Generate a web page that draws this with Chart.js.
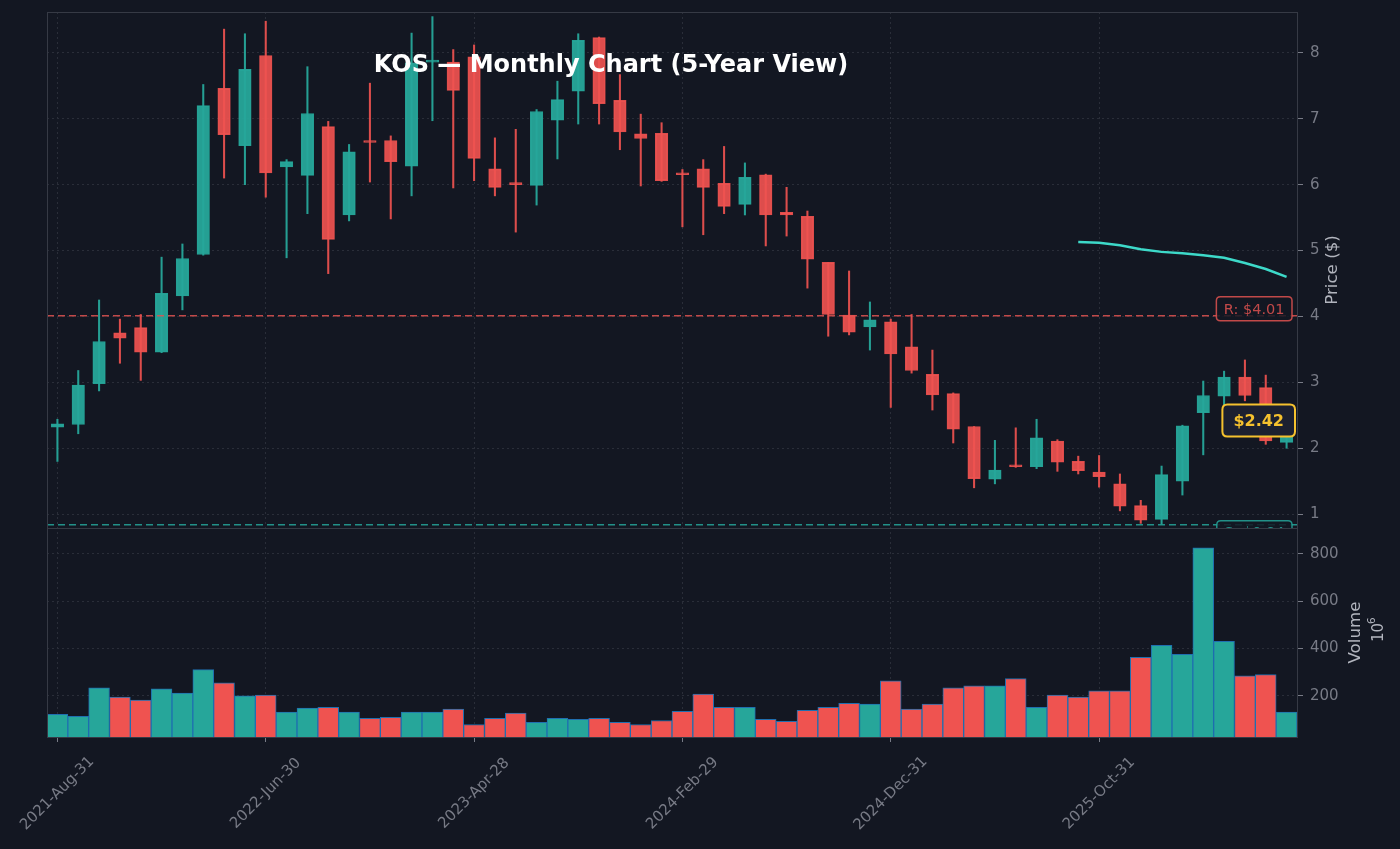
<!DOCTYPE html>
<html>
<head>
<meta charset="utf-8">
<title>KOS Monthly Chart</title>
<script src="https://cdn.jsdelivr.net/npm/chart.js@4.4.1/dist/chart.umd.min.js"></script>
<style>
  html, body { margin: 0; padding: 0; background: #131722; }
  #wrap { width: 1400px; height: 849px; }
</style>
</head>
<body>
<div id="wrap"><canvas id="kosChart" width="1400" height="849"></canvas></div>
<script>
// Month-end trading dates, one candle per month
const dates = [
  "2021-Aug-31", "2021-Sep-30", "2021-Oct-29", "2021-Nov-30", "2021-Dec-31",
  "2022-Jan-31", "2022-Feb-28", "2022-Mar-31", "2022-Apr-29", "2022-May-31",
  "2022-Jun-30", "2022-Jul-29", "2022-Aug-31", "2022-Sep-30", "2022-Oct-31",
  "2022-Nov-30", "2022-Dec-30", "2023-Jan-31", "2023-Feb-28", "2023-Mar-31",
  "2023-Apr-28", "2023-May-31", "2023-Jun-30", "2023-Jul-31", "2023-Aug-31",
  "2023-Sep-29", "2023-Oct-31", "2023-Nov-30", "2023-Dec-29", "2024-Jan-31",
  "2024-Feb-29", "2024-Mar-28", "2024-Apr-30", "2024-May-31", "2024-Jun-28",
  "2024-Jul-31", "2024-Aug-30", "2024-Sep-30", "2024-Oct-31", "2024-Nov-29",
  "2024-Dec-31", "2025-Jan-31", "2025-Feb-28", "2025-Mar-31", "2025-Apr-30",
  "2025-May-30", "2025-Jun-30", "2025-Jul-31", "2025-Aug-29", "2025-Sep-30",
  "2025-Oct-31", "2025-Nov-28", "2025-Dec-31", "2026-Jan-30", "2026-Feb-27",
  "2026-Mar-31", "2026-Apr-30", "2026-May-29", "2026-Jun-30", "2026-Jul-31"
];

// OHLC in dollars
const opens = [
  2.32, 2.36, 2.98, 3.75, 3.83, 3.46, 4.31, 4.94, 7.46, 6.59,
  7.96, 6.27, 6.14, 6.88, 5.54, 6.65, 6.67, 6.28, 7.86, 7.86,
  7.94, 6.24, 6.01, 5.99, 6.98, 7.42, 8.23, 7.28, 6.77, 6.78,
  6.16, 6.24, 6.02, 5.70, 6.15, 5.58, 5.52, 4.82, 4.02, 3.84,
  3.92, 3.54, 3.12, 2.83, 2.33, 1.53, 1.74, 1.72, 2.11, 1.80,
  1.64, 1.46, 1.13, 0.92, 1.50, 2.54, 2.79, 3.08, 2.92, 2.09
];
const highs = [
  2.44, 3.18, 4.25, 3.96, 4.03, 4.90, 5.10, 7.52, 8.36, 8.29,
  8.48, 6.38, 7.79, 6.96, 6.61, 7.54, 6.74, 8.30, 8.55, 8.05,
  8.12, 6.71, 6.84, 7.14, 7.57, 8.29, 8.24, 7.67, 7.07, 6.94,
  6.23, 6.38, 6.58, 6.33, 6.16, 5.96, 5.60, 4.82, 4.69, 4.22,
  3.96, 4.03, 3.49, 2.84, 2.33, 2.12, 2.31, 2.44, 2.13, 1.88,
  1.89, 1.61, 1.21, 1.73, 2.35, 3.02, 3.17, 3.34, 3.11, 2.50
];
const lows = [
  1.80, 2.22, 2.87, 3.29, 3.03, 3.45, 4.10, 4.93, 6.10, 6.00,
  5.81, 4.89, 5.56, 4.65, 5.45, 6.04, 5.48, 5.83, 6.97, 5.95,
  6.06, 5.83, 5.28, 5.69, 6.39, 6.92, 6.92, 6.53, 5.98, 6.05,
  5.36, 5.24, 5.56, 5.54, 5.07, 5.22, 4.43, 3.70, 3.72, 3.49,
  2.62, 3.14, 2.58, 2.08, 1.40, 1.46, 1.71, 1.69, 1.65, 1.61,
  1.41, 1.05, 0.86, 0.85, 1.29, 1.90, 2.66, 2.72, 2.06, 2.00
];
const closes = [
  2.37, 2.96, 3.62, 3.67, 3.46, 4.35, 4.88, 7.20, 6.76, 7.75,
  6.18, 6.35, 7.08, 5.17, 6.50, 6.64, 6.35, 7.85, 7.88, 7.43,
  6.40, 5.96, 6.00, 7.11, 7.29, 8.19, 7.23, 6.80, 6.70, 6.06,
  6.15, 5.96, 5.67, 6.11, 5.54, 5.54, 4.87, 4.03, 3.76, 3.95,
  3.43, 3.18, 2.81, 2.29, 1.54, 1.67, 1.72, 2.16, 1.79, 1.66,
  1.57, 1.12, 0.91, 1.60, 2.34, 2.80, 3.08, 2.80, 2.11, 2.42
];

// Volume in millions of shares
const volumes = [
  121, 113, 233, 194, 181, 229, 211, 310, 254, 199,
  203, 130, 147, 151, 130, 104, 108, 130, 130, 143,
   78, 104, 126,  87, 104, 100, 104,  87,  78,  95,
  134, 207, 151, 151, 100,  91, 138, 151, 168, 164,
  263, 143, 164, 233, 242, 242, 272, 151, 203, 194,
  220, 220, 362, 413, 375, 826, 430, 284, 289, 130
];

// Moving average, only available for the last months
const smaStart = 49;
const smaValues = [5.13, 5.12, 5.08, 5.02, 4.98, 4.96, 4.93, 4.89, 4.81, 4.72, 4.60];

const xTickEvery = 10;
const priceTicks = [1, 2, 3, 4, 5, 6, 7, 8];
const volumeTicks = [200, 400, 600, 800];
const resistance = 4.01;
const support = 0.84;
const lastPrice = 2.42;

// Colours
const bgColor = "#131722";
const gridColor = "#2a2e39";
const tickColor = "#787b86";
const upColor = "#26a69a";
const downColor = "#ef5350";

const isUp = closes.map((c, i) => c >= opens[i]);
const candleColors = isUp.map(up => up ? "rgba(38,166,154,0.95)" : "rgba(239,83,80,0.92)");
const volColors = isUp.map(up => up ? upColor : downColor);
const smaData = dates.map((d, i) => (i >= smaStart ? smaValues[i - smaStart] : null));

Chart.defaults.font.family = "'DejaVu Sans', sans-serif";

function roundRect(ctx, x, y, w, h, r) {
  ctx.beginPath();
  ctx.moveTo(x + r, y);
  ctx.lineTo(x + w - r, y);
  ctx.quadraticCurveTo(x + w, y, x + w, y + r);
  ctx.lineTo(x + w, y + h - r);
  ctx.quadraticCurveTo(x + w, y + h, x + w - r, y + h);
  ctx.lineTo(x + r, y + h);
  ctx.quadraticCurveTo(x, y + h, x, y + h - r);
  ctx.lineTo(x, y + r);
  ctx.quadraticCurveTo(x, y, x + r, y);
  ctx.closePath();
}

// Draw a boxed label whose right edge sits at `right`
function boxLabel(ctx, text, right, cy, opts) {
  ctx.font = opts.font;
  const w = ctx.measureText(text).width + opts.padX * 2;
  const h = opts.height;
  roundRect(ctx, right - w, cy - h / 2, w, h, opts.radius);
  ctx.fillStyle = opts.fill;
  ctx.fill();
  ctx.lineWidth = opts.lineWidth;
  ctx.strokeStyle = opts.stroke;
  ctx.stroke();
  ctx.fillStyle = opts.color;
  ctx.textAlign = "center";
  ctx.textBaseline = "middle";
  ctx.fillText(text, right - w / 2, cy + 1);
}

// keep the plot area exactly where the layout padding puts it
function noScalePadding(scale) {
  scale.paddingTop = 0;
  scale.paddingBottom = 0;
  scale.paddingLeft = 0;
  scale.paddingRight = 0;
}

const overlayPlugin = {
  id: "overlay",
  beforeDraw(chart) {
    const ctx = chart.ctx;
    ctx.save();
    ctx.fillStyle = bgColor;
    ctx.fillRect(0, 0, chart.width, chart.height);
    ctx.restore();
  },
  afterDatasetsDraw(chart) {
    const ctx = chart.ctx;
    const area = chart.chartArea;
    const yScale = chart.scales.y;

    ctx.save();
    ctx.beginPath();
    ctx.rect(area.left, yScale.top, area.right - area.left, yScale.bottom - yScale.top + 1);
    ctx.clip();

    // support / resistance levels
    const levels = [
      { value: resistance, color: "rgba(224,82,80,0.85)", text: "R: $" + resistance.toFixed(2), shift: -7 },
      { value: support, color: "rgba(38,166,154,0.85)", text: "S: $" + support.toFixed(2), shift: 8 }
    ];
    levels.forEach(lv => {
      const py = yScale.getPixelForValue(lv.value);
      ctx.beginPath();
      ctx.setLineDash([7, 4]);
      ctx.lineWidth = 1.5;
      ctx.strokeStyle = lv.color;
      ctx.moveTo(area.left, py);
      ctx.lineTo(area.right, py);
      ctx.stroke();
      ctx.setLineDash([]);
      boxLabel(ctx, lv.text, area.right - 5, py + lv.shift, {
        font: "14.5px 'DejaVu Sans'", padX: 7.5, height: 24, radius: 4,
        fill: "rgba(19,23,34,0.85)", stroke: lv.color, lineWidth: 1.5, color: lv.color
      });
    });

    // last price tag
    const lp = yScale.getPixelForValue(lastPrice);
    boxLabel(ctx, "$" + lastPrice.toFixed(2), area.right - 2, lp, {
      font: "bold 16px 'DejaVu Sans'", padX: 11, height: 32, radius: 5,
      fill: "#1c2030", stroke: "#f5c12e", lineWidth: 2, color: "#f5c12e"
    });
    ctx.restore();
  },
  afterDraw(chart) {
    const ctx = chart.ctx;
    const area = chart.chartArea;
    const yScale = chart.scales.y;
    const vScale = chart.scales.yv;
    const xScale = chart.scales.x;

    ctx.save();
    // panel frames
    ctx.strokeStyle = "#363a45";
    ctx.lineWidth = 1;
    ctx.strokeRect(area.left + 0.5, yScale.top + 0.5, area.right - area.left, yScale.bottom - yScale.top);
    ctx.strokeRect(area.left + 0.5, vScale.top + 0.5, area.right - area.left, vScale.bottom - vScale.top);

    // title
    ctx.fillStyle = "#ffffff";
    ctx.font = "bold 24px 'DejaVu Sans'";
    ctx.textAlign = "center";
    ctx.textBaseline = "middle";
    ctx.fillText("KOS \u2014 Monthly Chart (5-Year View)", 611, 66);

    // rotated date labels, centred on their ticks
    ctx.fillStyle = tickColor;
    ctx.font = "15px 'DejaVu Sans'";
    dates.forEach((d, i) => {
      if (i % xTickEvery !== 0) return;
      const px = xScale.getPixelForValue(i);
      ctx.save();
      ctx.translate(px, xScale.top + 56.5);
      ctx.rotate(-Math.PI / 4);
      ctx.fillText(d, 0, 0);
      ctx.restore();
    });

    // axis titles
    ctx.fillStyle = "#b2b5be";
    ctx.font = "16.7px 'DejaVu Sans'";
    ctx.save();
    ctx.translate(1333, (yScale.top + yScale.bottom) / 2);
    ctx.rotate(-Math.PI / 2);
    ctx.fillText("Price ($)", 0, 0);
    ctx.restore();

    ctx.save();
    ctx.translate(1356, (vScale.top + vScale.bottom) / 2);
    ctx.rotate(-Math.PI / 2);
    ctx.fillText("Volume", 0, 0);
    ctx.restore();

    ctx.save();
    ctx.translate(1377, 630);
    ctx.rotate(-Math.PI / 2);
    ctx.textAlign = "left";
    ctx.font = "15px 'DejaVu Sans'";
    ctx.fillText("10", -12, 2);
    ctx.font = "10.5px 'DejaVu Sans'";
    ctx.fillText("6", 6, -5);
    ctx.restore();

    ctx.restore();
  }
};

const ctx = document.getElementById("kosChart").getContext("2d");
const chart = new Chart(ctx, {
  data: {
    labels: dates,
    datasets: [
      {
        type: "line",
        label: "SMA",
        data: smaData,
        yAxisID: "y",
        borderColor: "#3dd9c9",
        borderWidth: 2.5,
        pointRadius: 0,
        tension: 0,
        spanGaps: false,
        order: 1
      },
      {
        type: "bar",
        label: "Body",
        data: opens.map((o, i) => [o, closes[i]]),
        yAxisID: "y",
        backgroundColor: candleColors,
        borderColor: candleColors,
        borderWidth: 1,
        borderSkipped: false,
        barThickness: 12.5,
        minBarLength: 2,
        grouped: false,
        order: 2
      },
      {
        type: "bar",
        label: "Wick",
        data: lows.map((l, i) => [l, highs[i]]),
        yAxisID: "y",
        backgroundColor: candleColors,
        borderWidth: 0,
        barThickness: 1.4,
        grouped: false,
        order: 3
      },
      {
        type: "bar",
        label: "Volume",
        data: volumes,
        yAxisID: "yv",
        backgroundColor: volColors,
        borderColor: "#1f6fb0",
        borderWidth: 1,
        borderSkipped: "bottom",
        barPercentage: 1,
        categoryPercentage: 1,
        grouped: false,
        order: 4
      }
    ]
  },
  options: {
    responsive: false,
    animation: false,
    devicePixelRatio: 1,
    layout: { padding: { left: 47, top: 12, right: 0, bottom: 0 } },
    plugins: {
      legend: { display: false },
      tooltip: { enabled: false }
    },
    scales: {
      x: {
        type: "category",
        offset: true,
        grid: {
          offset: false,
          color: gridColor,
          borderDash: [2, 3],
          drawTicks: true,
          tickLength: 5,
          tickColor: tickColor,
          tickBorderDash: []
        },
        border: { display: false, dash: [2, 3] },
        ticks: { display: false, autoSkip: false },
        afterBuildTicks: scale => {
          scale.ticks = scale.ticks.filter(t => t.value % xTickEvery === 0);
        },
        afterFit: scale => { scale.height = 112; noScalePadding(scale); }
      },
      y: {
        type: "linear",
        position: "right",
        stack: "panels",
        stackWeight: 516,
        min: 0.79,
        max: 8.62,
        grid: {
          color: gridColor,
          borderDash: [2, 3],
          tickLength: 6,
          tickColor: tickColor,
          tickBorderDash: []
        },
        border: { display: false, dash: [2, 3] },
        ticks: { color: tickColor, font: { size: 15 }, padding: 7 },
        afterBuildTicks: scale => { scale.ticks = priceTicks.map(v => ({ value: v })); },
        afterFit: scale => { scale.width = 103; noScalePadding(scale); }
      },
      yv: {
        type: "linear",
        position: "right",
        stack: "panels",
        stackWeight: 209,
        min: 25,
        max: 910,
        grid: {
          color: gridColor,
          borderDash: [2, 3],
          tickLength: 6,
          tickColor: tickColor,
          tickBorderDash: []
        },
        border: { display: false, dash: [2, 3] },
        ticks: { color: tickColor, font: { size: 15 }, padding: 7 },
        afterBuildTicks: scale => { scale.ticks = volumeTicks.map(v => ({ value: v })); },
        afterFit: scale => { scale.width = 103; noScalePadding(scale); }
      }
    }
  },
  plugins: [overlayPlugin]
});
</script>
</body>
</html>
